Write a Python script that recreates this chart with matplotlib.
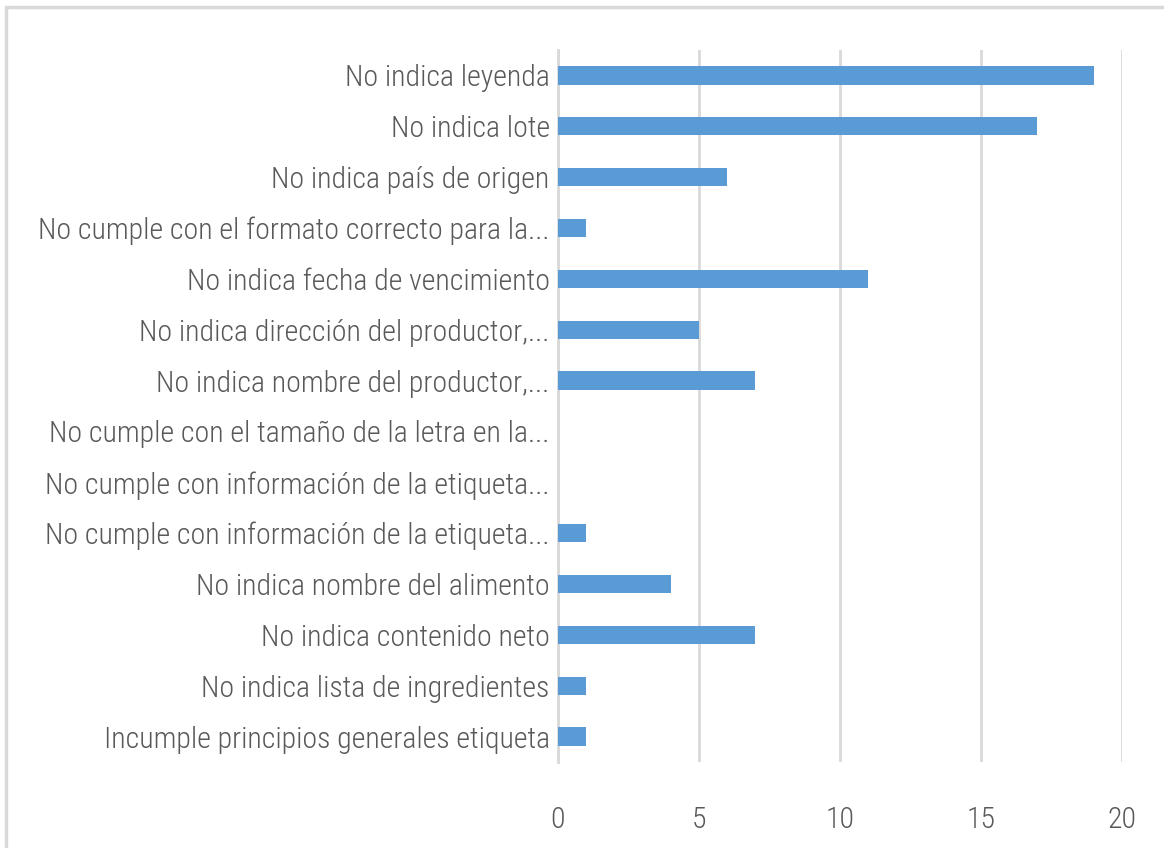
"""Horizontal bar chart: incumplimientos de etiquetado"""

import matplotlib

matplotlib.use("Agg")
import matplotlib.pyplot as plt
from matplotlib import font_manager
from matplotlib.patches import Rectangle

categories = [
    "No indica leyenda",
    "No indica lote",
    "No indica país de origen",
    "No cumple con el formato correcto para la...",
    "No indica fecha de vencimiento",
    "No indica dirección del productor,...",
    "No indica nombre del productor,...",
    "No cumple con el tamaño de la letra en la...",
    "No cumple con información de la etiqueta...",
    "No cumple con información de la etiqueta...",
    "No indica nombre del alimento",
    "No indica contenido neto",
    "No indica lista de ingredientes",
    "Incumple principios generales etiqueta",
]
values = [19, 17, 6, 1, 11, 5, 7, 0, 0, 1, 4, 7, 1, 1]
xticks = [0, 5, 10, 15, 20]

# prefer a condensed face (like the original's Calibri look) if one exists
installed = {f.name for f in font_manager.fontManager.ttflist}
label_size = 19.5
for name in ("Liberation Sans Narrow", "Roboto Condensed", "Open Sans Condensed"):
    if name in installed:
        plt.rcParams["font.family"] = [name, "DejaVu Sans"]
        label_size = 21.5
        break
else:
    plt.rcParams["font.family"] = ["Liberation Sans", "DejaVu Sans"]
plt.rcParams["font.weight"] = "light"

W, H = 1164, 848
fig = plt.figure(figsize=(W / 100, H / 100), dpi=100)

# outer chart border (cropped at right/bottom in the original)
fig.patches.append(
    Rectangle((6 / W, -0.1), 1.2, 1 - 7 / H + 0.1, transform=fig.transFigure,
              fill=False, edgecolor="#d9d9d9", linewidth=2.5, zorder=0)
)

ax = fig.add_axes([558 / W, 1 - 762 / H, (1122 - 558) / W, (762 - 50) / H])
y = list(range(len(categories)))
ax.barh(y, values, height=0.36, color="#5b9bd5", zorder=3)
ax.set_ylim(len(categories) - 0.5, -0.5)
ax.set_xlim(0, 20)
ax.set_xticks(xticks)
ax.set_yticks(y)
ax.set_yticklabels(categories)

ax.grid(axis="x", color="#d9d9d9", linewidth=2, zorder=0)
ax.set_axisbelow(True)
for side in ("top", "right", "bottom"):
    ax.spines[side].set_visible(False)
ax.spines["left"].set_color("#d9d9d9")
ax.spines["left"].set_linewidth(2)
ax.spines["left"].set_zorder(1)

ax.tick_params(axis="both", length=0, colors="#595959")
ax.tick_params(axis="y", pad=6, labelsize=label_size)
ax.tick_params(axis="x", pad=32, labelsize=21.5)

fig.savefig("out.png", dpi=100)
